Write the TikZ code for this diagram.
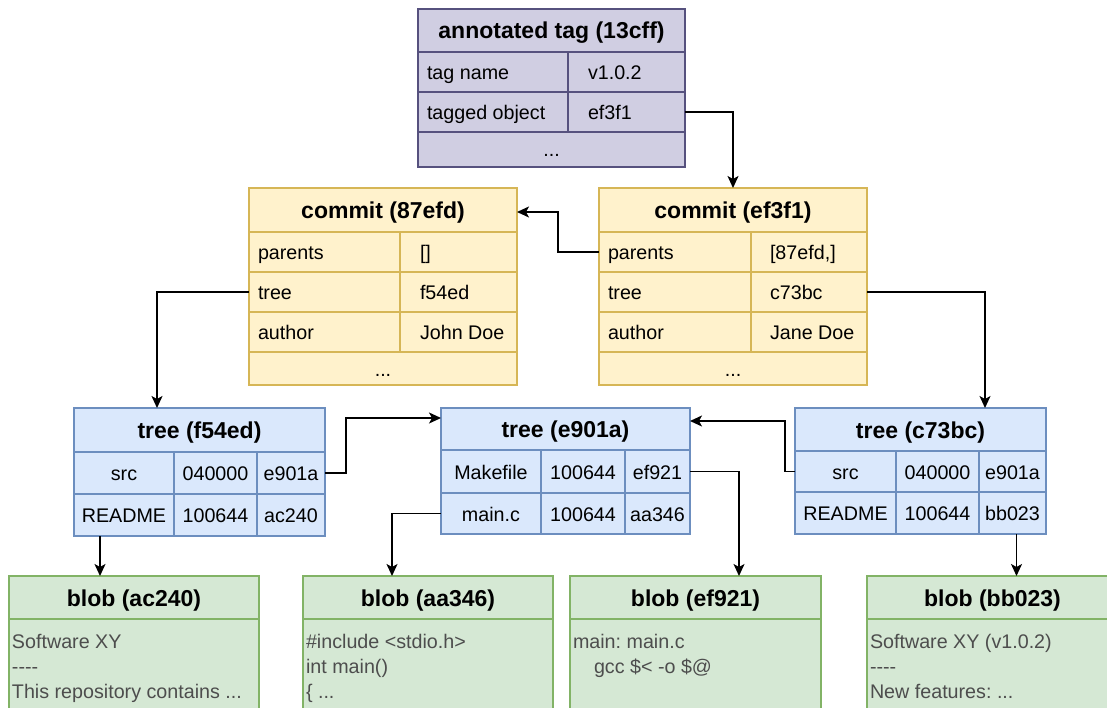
\documentclass[tikz,border=0pt]{standalone}
\usepackage{fontspec}
\setmainfont{Liberation Sans}[Ligatures=TeXOff]
\usetikzlibrary{arrows.meta}
\definecolor{pfill}{HTML}{D0CEE2}
\definecolor{pline}{HTML}{56517E}
\definecolor{yfill}{HTML}{FFF2CC}
\definecolor{yline}{HTML}{D6B656}
\definecolor{bfill}{HTML}{DAE8FC}
\definecolor{bline}{HTML}{6C8EBF}
\definecolor{gfill}{HTML}{D5E8D4}
\definecolor{gline}{HTML}{82B366}
\definecolor{btext}{HTML}{4D4D4D}
\newcommand\bodyfnt{\fontsize{19.7}{23.6}\selectfont}
\newcommand\hdrfnt{\fontsize{23}{27}\selectfont\bfseries}
\newcommand\mkcell[7]{\node[cellbox,#6,minimum width={(#4-#2)*1pt},minimum height={(#5-#3)*1pt}] (#1) at ({(#2+#4)/2},{(#3+#5)/2}) {#7};}
\tikzset{
  cellbox/.style={draw, line width=1.5pt, inner sep=0pt, outer sep=0pt, font=\bodyfnt, text height=15pt, text depth=0pt},
  hdr/.style={font=\hdrfnt, text height=17pt, text depth=0pt},
  tagc/.style={fill=pfill, draw=pline},
  comc/.style={fill=yfill, draw=yline},
  trec/.style={fill=bfill, draw=bline},
  blbc/.style={fill=gfill, draw=gline},
  txt/.style={inner sep=0pt, outer sep=0pt, font=\bodyfnt, anchor=base west},
  btxt/.style={inner sep=0pt, outer sep=0pt, font=\bodyfnt, text=btext, anchor=base west},
  arr/.style={-{Stealth[length=12pt,width=11pt,inset=3pt]}, line width=1.5pt}
}
\frenchspacing
\begin{document}
\begin{tikzpicture}[x=1pt,y=-1pt]
\useasboundingbox (0,0) rectangle (1107,708);
\fill[white] (0,0) rectangle (1107,708);
\clip (0,0) rectangle (1107,708);
% annotated tag
\mkcell{tagh}{418}{9}{685}{52}{tagc,hdr}{annotated tag (13cff)}
\mkcell{tagk1}{418}{52}{568}{92}{tagc}{}
\mkcell{tagv1}{568}{52}{685}{92}{tagc}{}
\mkcell{tagk2}{418}{92}{568}{132}{tagc}{}
\mkcell{tagv2}{568}{92}{685}{132}{tagc}{}
\mkcell{tagf}{418}{132}{685}{167}{tagc}{...}
\node[txt] (tagk1t) at ([xshift=9pt,yshift=-7.5pt]tagk1.west) {tag name};
\node[txt] (tagv1t) at ([xshift=20pt,yshift=-7.5pt]tagv1.west) {v1.0.2};
\node[txt] (tagk2t) at ([xshift=9pt,yshift=-7.5pt]tagk2.west) {tagged object};
\node[txt] (tagv2t) at ([xshift=20pt,yshift=-7.5pt]tagv2.west) {ef3f1};
% commit 87efd
\mkcell{c1h}{249}{188}{517}{232}{comc,hdr}{commit (87efd)}
\mkcell{c1k1}{249}{232}{400}{272}{comc}{}
\mkcell{c1v1}{400}{232}{517}{272}{comc}{}
\mkcell{c1k2}{249}{272}{400}{312}{comc}{}
\mkcell{c1v2}{400}{272}{517}{312}{comc}{}
\mkcell{c1k3}{249}{312}{400}{352}{comc}{}
\mkcell{c1v3}{400}{312}{517}{352}{comc}{}
\mkcell{c1f}{249}{352}{517}{385}{comc}{...}
\node[txt] (c1k1t) at ([xshift=9pt,yshift=-7.5pt]c1k1.west) {parents};
\node[txt] (c1v1t) at ([xshift=20pt,yshift=-7.5pt]c1v1.west) {[]};
\node[txt] (c1k2t) at ([xshift=9pt,yshift=-7.5pt]c1k2.west) {tree};
\node[txt] (c1v2t) at ([xshift=20pt,yshift=-7.5pt]c1v2.west) {f54ed};
\node[txt] (c1k3t) at ([xshift=9pt,yshift=-7.5pt]c1k3.west) {author};
\node[txt] (c1v3t) at ([xshift=20pt,yshift=-7.5pt]c1v3.west) {John Doe};
% commit ef3f1
\mkcell{c2h}{599}{188}{867}{232}{comc,hdr}{commit (ef3f1)}
\mkcell{c2k1}{599}{232}{751}{272}{comc}{}
\mkcell{c2v1}{751}{232}{867}{272}{comc}{}
\mkcell{c2k2}{599}{272}{751}{312}{comc}{}
\mkcell{c2v2}{751}{272}{867}{312}{comc}{}
\mkcell{c2k3}{599}{312}{751}{352}{comc}{}
\mkcell{c2v3}{751}{312}{867}{352}{comc}{}
\mkcell{c2f}{599}{352}{867}{385}{comc}{...}
\node[txt] (c2k1t) at ([xshift=9pt,yshift=-7.5pt]c2k1.west) {parents};
\node[txt] (c2v1t) at ([xshift=19pt,yshift=-7.5pt]c2v1.west) {[87efd,]};
\node[txt] (c2k2t) at ([xshift=9pt,yshift=-7.5pt]c2k2.west) {tree};
\node[txt] (c2v2t) at ([xshift=19pt,yshift=-7.5pt]c2v2.west) {c73bc};
\node[txt] (c2k3t) at ([xshift=9pt,yshift=-7.5pt]c2k3.west) {author};
\node[txt] (c2v3t) at ([xshift=19pt,yshift=-7.5pt]c2v3.west) {Jane Doe};
% tree f54ed
\mkcell{t1h}{74}{408}{325}{452}{trec,hdr}{tree (f54ed)}
\mkcell{t1a1}{74}{452}{174}{494}{trec}{src}
\mkcell{t1b1}{174}{452}{257}{494}{trec}{040000}
\mkcell{t1c1}{257}{452}{325}{494}{trec}{e901a}
\mkcell{t1a2}{74}{494}{174}{536}{trec}{README}
\mkcell{t1b2}{174}{494}{257}{536}{trec}{100644}
\mkcell{t1c2}{257}{494}{325}{536}{trec}{ac240}
% tree e901a
\mkcell{t2h}{441}{408}{690}{450}{trec,hdr}{tree (e901a)}
\mkcell{t2a1}{441}{450}{541}{493}{trec}{Makefile}
\mkcell{t2b1}{541}{450}{625}{493}{trec}{100644}
\mkcell{t2c1}{625}{450}{690}{493}{trec}{ef921}
\mkcell{t2a2}{441}{493}{541}{534}{trec}{main.c}
\mkcell{t2b2}{541}{493}{625}{534}{trec}{100644}
\mkcell{t2c2}{625}{493}{690}{534}{trec}{aa346}
% tree c73bc
\mkcell{t3h}{795}{408}{1046}{451}{trec,hdr}{tree (c73bc)}
\mkcell{t3a1}{795}{451}{896}{492}{trec}{src}
\mkcell{t3b1}{896}{451}{979}{492}{trec}{040000}
\mkcell{t3c1}{979}{451}{1046}{492}{trec}{e901a}
\mkcell{t3a2}{795}{492}{896}{534}{trec}{README}
\mkcell{t3b2}{896}{492}{979}{534}{trec}{100644}
\mkcell{t3c2}{979}{492}{1046}{534}{trec}{bb023}
% blobs
\mkcell{b1h}{9}{576}{259}{619}{blbc,hdr}{blob (ac240)}
\mkcell{b1}{9}{619}{259}{730}{blbc}{}
\mkcell{b2h}{303}{576}{553}{619}{blbc,hdr}{blob (aa346)}
\mkcell{b2}{303}{619}{553}{730}{blbc}{}
\mkcell{b3h}{570}{576}{821}{619}{blbc,hdr}{blob (ef921)}
\mkcell{b3}{570}{619}{821}{730}{blbc}{}
\mkcell{b4h}{867}{576}{1118}{619}{blbc,hdr}{blob (bb023)}
\mkcell{b4}{867}{619}{1118}{730}{blbc}{}
\node[btxt] (b1l1) at (12,648) {Software XY};
\node[btxt] (b1l2) at (12,673) {----};
\node[btxt] (b1l3) at (12,698) {This repository contains ...};
\node[btxt] (b2l1) at (306,648) {\#include <stdio.h>};
\node[btxt] (b2l2) at (306,673) {int main()};
\node[btxt] (b2l3) at (306,698) {\{ ...};
\node[btxt] (b3l1) at (573,648) {main: main.c};
\node[btxt] (b3l2) at (594,673) {gcc \$< -o \$@};
\node[btxt] (b4l1) at (870,648) {Software XY (v1.0.2)};
\node[btxt] (b4l2) at (870,673) {----};
\node[btxt] (b4l3) at (870,698) {New features: ...};
% connectors
\draw[arr] (tagv2.east) -| (c2h.north);
\draw[arr] (c2k1.west) -- ++(-41,0) |- ([yshift=-2pt]c1h.east);
\draw[arr] (c1k2.west) -| ([xshift=-42.5pt]t1h.north);
\draw[arr] (c2v2.east) -| ([xshift=64.5pt]t3h.north);
\draw[arr] (t1c1.east) -- ++(21,0) |- ([yshift=11pt]t2h.west);
\draw[arr] (t3a1.west) -- ++(-10,0) |- ([yshift=8pt]t2h.east);
\draw[arr] (t2c1.east) -| ([xshift=43.5pt]b3h.north);
\draw[arr] (t2a2.west) -| ([xshift=-36pt]b2h.north);
\draw[arr] ([xshift=-24pt]t1a2.south) -- ([xshift=-24pt]t1a2.south |- b1h.north);
\draw[arr] ([xshift=4pt]t3c2.south) -- ([xshift=4pt]t3c2.south |- b4h.north);
\end{tikzpicture}
\end{document}
